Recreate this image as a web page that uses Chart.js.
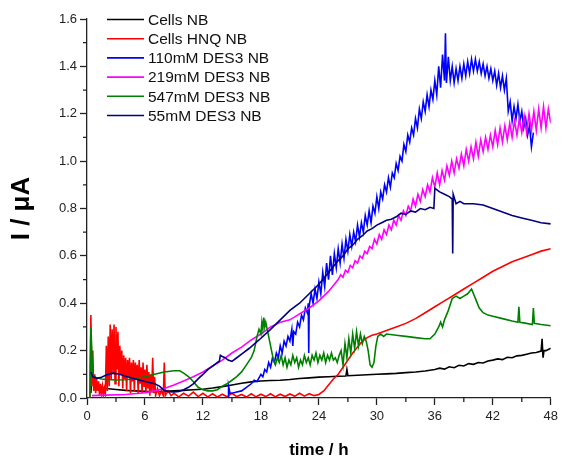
<!DOCTYPE html>
<html>
<head>
<meta charset="utf-8">
<script src="https://cdn.jsdelivr.net/npm/chart.js@4.4.0/dist/chart.umd.min.js"></script>
<style>
  html, body { margin: 0; padding: 0; background: #fff; }
  canvas { display: block; }
</style>
</head>
<body>
<canvas id="chart" width="562" height="463"></canvas>
<script>
// series names, as in the legend
const seriesLabels = ["Cells NB", "Cells HNQ NB", "110mM DES3 NB", "219mM DES3 NB", "547mM DES3 NB", "55mM DES3 NB"];

// x axis ticks (time / h) and y axis ticks (I / µA)
const timeTicks = [0, 6, 12, 18, 24, 30, 36, 42, 48];
const currentTicks = [0.0, 0.2, 0.4, 0.6, 0.8, 1.0, 1.2, 1.4, 1.6];

// Cells NB
const cellsNbTime = [0.4, 0.5, 0.7, 1.0, 1.5, 2, 3, 4, 5, 6, 7, 8, 9, 10, 11, 12, 13, 14, 15, 16, 17, 18, 19, 20, 21, 22, 23, 24, 25, 26, 26.8, 26.9, 27, 28, 29, 30, 31, 32, 33, 34, 35, 36, 36.5, 37, 37.5, 38, 38.5, 39, 39.5, 40, 40.5, 41, 41.5, 42, 42.5, 43, 43.5, 44, 44.5, 45, 45.5, 46, 46.5, 47, 47.1, 47.2, 47.3, 47.5, 48];
const cellsNbCurrent = [0.02, 0.09, 0.06, 0.05, 0.045, 0.04, 0.036, 0.032, 0.03, 0.028, 0.027, 0.028, 0.03, 0.032, 0.035, 0.037, 0.042, 0.048, 0.055, 0.062, 0.068, 0.072, 0.074, 0.075, 0.078, 0.082, 0.085, 0.088, 0.09, 0.092, 0.093, 0.12, 0.094, 0.096, 0.098, 0.1, 0.102, 0.104, 0.107, 0.11, 0.114, 0.12, 0.126, 0.122, 0.132, 0.128, 0.138, 0.135, 0.145, 0.142, 0.15, 0.148, 0.156, 0.16, 0.165, 0.162, 0.172, 0.17, 0.178, 0.18, 0.185, 0.19, 0.192, 0.198, 0.25, 0.17, 0.2, 0.2, 0.21];

// Cells HNQ NB
const cellsHnqTime = [0.3, 0.4, 0.5, 0.6, 0.7, 0.8, 0.9, 1.0, 1.1, 1.2, 1.3, 1.4, 1.5, 1.6, 1.7, 1.8, 1.9, 2.0, 2.1, 2.2, 2.3, 2.4, 2.5, 2.6, 2.7, 2.8, 2.9, 3.0, 3.1, 3.2, 3.3, 3.4, 3.5, 3.6, 3.7, 3.8, 3.9, 4.0, 4.1, 4.2, 4.3, 4.4, 4.5, 4.6, 4.7, 4.8, 4.9, 5.0, 5.1, 5.2, 5.3, 5.4, 5.5, 5.6, 5.7, 5.8, 5.9, 6.0, 6.1, 6.2, 6.3, 6.4, 6.5, 6.6, 6.7, 6.8, 6.9, 7.0, 7.1, 7.3, 7.5, 7.7, 7.9, 8.0, 8.1, 8.4, 8.7, 9, 9.5, 10, 10.5, 11, 11.5, 12, 12.5, 13, 13.5, 14, 14.5, 15, 15.5, 16, 16.5, 17, 17.5, 18, 18.5, 19, 19.5, 20, 20.5, 21, 21.5, 22, 22.5, 23, 23.5, 24, 24.5, 25, 25.5, 26, 26.5, 27, 27.5, 28, 28.5, 29, 29.5, 30, 31, 32, 33, 34, 35, 36, 37, 38, 39, 40, 41, 42, 43, 44, 45, 46, 47, 48];
const cellsHnqCurrent = [0.0, 0.35, 0.05, 0.2, 0.03, 0.1, 0.02, 0.08, 0.03, 0.07, 0.01, 0.06, 0.02, 0.05, 0.01, 0.04, 0.02, 0.22, 0.03, 0.26, 0.05, 0.31, 0.08, 0.29, 0.1, 0.31, 0.06, 0.3, 0.12, 0.28, 0.05, 0.22, 0.1, 0.2, 0.04, 0.18, 0.08, 0.17, 0.03, 0.16, 0.09, 0.17, 0.02, 0.15, 0.07, 0.16, 0.03, 0.15, 0.08, 0.14, 0.02, 0.16, 0.06, 0.13, 0.02, 0.15, 0.05, 0.12, 0.02, 0.14, 0.04, 0.11, 0.01, 0.1, 0.03, 0.17, 0.02, 0.09, 0.01, 0.04, 0.01, 0.03, 0.01, 0.15, 0.01, 0.03, 0.01, 0.02, 0.005, 0.02, 0.008, 0.025, 0.006, 0.02, 0.005, 0.018, 0.004, 0.016, 0.005, 0.02, 0.006, 0.015, 0.004, 0.018, 0.005, 0.016, 0.006, 0.018, 0.005, 0.016, 0.006, 0.017, 0.007, 0.02, 0.008, 0.018, 0.01, 0.015, 0.03, 0.055, 0.08, 0.1, 0.13, 0.16, 0.19, 0.215, 0.24, 0.255, 0.265, 0.27, 0.285, 0.3, 0.315, 0.335, 0.36, 0.385, 0.41, 0.435, 0.46, 0.485, 0.51, 0.535, 0.555, 0.575, 0.59, 0.605, 0.62, 0.63];

// 110mM DES3 NB
const des110Time = [14.6, 14.65, 14.8, 15, 15.5, 16, 16.5, 17, 17.3, 17.6, 18, 18.2, 18.4, 18.6, 18.8, 19, 19.2, 19.4, 19.6, 19.8, 20, 20.2, 20.4, 20.6, 20.8, 21.0, 21.2, 21.3, 21.4, 21.6, 21.8, 22.0, 22.2, 22.4, 22.6, 22.8, 22.9, 22.95,
    23.0, 23.2, 23.4, 23.6, 23.8, 24.0, 24.2, 24.4, 24.6, 24.8, 25.0, 25.2, 25.4, 25.6, 25.8, 26.0, 26.2, 26.4, 26.6, 26.8, 27.0, 27.2, 27.4, 27.6, 27.8, 28.0, 28.2, 28.4, 28.6, 28.8, 29.0, 29.2, 29.4, 29.6, 29.8,
    30.0, 30.2, 30.4, 30.6, 30.8, 31.0, 31.2, 31.4, 31.6, 31.8, 32.0, 32.2, 32.4, 32.6, 32.8, 33.0, 33.2, 33.4, 33.6, 33.8, 34.0, 34.2, 34.4, 34.6, 34.8, 35.0, 35.2, 35.4, 35.6, 35.8, 36.0, 36.2, 36.4, 36.6, 36.8, 37.0, 37.1, 37.2, 37.4, 37.6, 37.8,
    38.0, 38.2, 38.4, 38.6, 38.8, 39.0, 39.2, 39.4, 39.6, 39.8, 40.0, 40.2, 40.4, 40.6, 40.8, 41.0, 41.2, 41.4, 41.6, 41.8, 42.0, 42.2, 42.4, 42.6, 42.8, 43.0, 43.2, 43.4, 43.6, 43.8, 44.0, 44.2, 44.4, 44.6, 44.8, 45.0, 45.2, 45.4, 45.6, 45.8, 46.0, 46.2];
const des110Current = [0.0, 0.05, 0.02, 0.02, 0.025, 0.03, 0.045, 0.06, 0.075, 0.07, 0.1, 0.09, 0.12, 0.11, 0.15, 0.13, 0.17, 0.15, 0.19, 0.17, 0.22, 0.19, 0.24, 0.22, 0.26, 0.24, 0.29, 0.22, 0.28, 0.27, 0.32, 0.3, 0.35, 0.33, 0.38, 0.36, 0.4, 0.19,
    0.39, 0.44, 0.4, 0.46, 0.42, 0.49, 0.44, 0.53, 0.47, 0.57, 0.5, 0.6, 0.52, 0.61, 0.55, 0.63, 0.57, 0.65, 0.59, 0.67, 0.62, 0.69, 0.64, 0.7, 0.66, 0.73, 0.68, 0.74, 0.7, 0.77, 0.73, 0.79, 0.74, 0.81, 0.78,
    0.85, 0.8, 0.87, 0.84, 0.9, 0.87, 0.93, 0.89, 0.95, 0.93, 0.99, 0.96, 1.02, 1.0, 1.07, 1.04, 1.11, 1.08, 1.14, 1.11, 1.18, 1.14, 1.22, 1.18, 1.25, 1.21, 1.28, 1.23, 1.3, 1.26, 1.34, 1.28, 1.4, 1.31, 1.45, 1.34, 1.54, 1.33, 1.44, 1.34, 1.4,
    1.33, 1.39, 1.34, 1.4, 1.35, 1.41, 1.36, 1.42, 1.37, 1.43, 1.38, 1.43, 1.38, 1.42, 1.37, 1.41, 1.36, 1.4, 1.35, 1.39, 1.34, 1.38, 1.32, 1.37, 1.31, 1.36, 1.3, 1.35, 1.21, 1.25, 1.17, 1.23, 1.18, 1.24, 1.17, 1.21, 1.14, 1.18, 1.11, 1.15, 1.06, 1.12];

// 219mM DES3 NB
const des219Time = [0.5, 2, 4, 6, 7, 8, 9, 10, 11, 12, 13, 14, 15, 16, 17, 18, 19, 20, 21, 22, 23, 24, 25,
    26, 26.25, 26.5, 26.75, 27, 27.25, 27.5, 27.75, 28, 28.25, 28.5, 28.75, 29, 29.25, 29.5, 29.75, 30, 30.25, 30.5, 30.75, 31, 31.25, 31.5, 31.75, 32, 32.25, 32.5, 32.75, 33, 33.25, 33.5, 33.75, 34, 34.25, 34.5, 34.75, 35, 35.25, 35.5, 35.75,
    36, 36.25, 36.5, 36.75, 37, 37.25, 37.5, 37.75, 38, 38.25, 38.5, 38.75, 39, 39.25, 39.5, 39.75, 40, 40.25, 40.5, 40.75, 41, 41.25, 41.5, 41.75, 42, 42.25, 42.5, 42.75, 43, 43.25, 43.5, 43.75, 44, 44.25, 44.5, 44.75, 45, 45.25, 45.5, 45.75, 46, 46.25, 46.5, 46.75, 47, 47.25, 47.5, 47.75, 48];
const des219Current = [0.01, 0.012, 0.015, 0.022, 0.03, 0.04, 0.055, 0.072, 0.09, 0.11, 0.135, 0.16, 0.19, 0.215, 0.245, 0.27, 0.3, 0.32, 0.33, 0.355, 0.38, 0.41, 0.45,
    0.5, 0.52, 0.51, 0.54, 0.53, 0.56, 0.55, 0.58, 0.57, 0.6, 0.59, 0.62, 0.61, 0.64, 0.63, 0.67, 0.65, 0.69, 0.67, 0.71, 0.69, 0.73, 0.71, 0.75, 0.73, 0.77, 0.75, 0.79, 0.77, 0.81, 0.79, 0.84, 0.81, 0.86, 0.83, 0.88, 0.85, 0.9, 0.87, 0.93,
    0.89, 0.95, 0.9, 0.96, 0.92, 0.98, 0.94, 1.0, 0.95, 1.01, 0.97, 1.03, 0.98, 1.05, 1.0, 1.06, 1.01, 1.08, 1.02, 1.09, 1.04, 1.1, 1.05, 1.11, 1.06, 1.13, 1.07, 1.14, 1.08, 1.15, 1.09, 1.16, 1.1, 1.17, 1.11, 1.18, 1.12, 1.19, 1.12, 1.2, 1.13, 1.21, 1.13, 1.22, 1.14, 1.23, 1.14, 1.22, 1.16];

// 547mM DES3 NB
const des547Time = [0.3, 0.4, 0.5, 0.6, 0.8, 1, 1.5, 2, 3, 4, 5, 6, 7, 8, 9, 9.6, 10, 10.5, 11, 11.5, 12, 12.5, 13, 13.5, 14, 14.5, 15, 15.5, 16, 16.5, 17, 17.3, 17.6, 17.8, 18.0, 18.1, 18.2, 18.3, 18.4, 18.5, 18.7, 18.9, 19.1, 19.3, 19.5, 19.7, 19.9, 20.1, 20.3, 20.5, 20.7, 20.9, 21.1, 21.3, 21.5, 21.7, 21.9, 22.1, 22.3, 22.5, 22.7, 22.9, 23.1, 23.3, 23.5, 23.7, 23.9, 24.1, 24.3, 24.5, 24.7, 24.9, 25.1, 25.3, 25.5, 25.7, 25.9, 26.1, 26.3, 26.5, 26.7, 26.9, 27.1, 27.3, 27.5, 27.7, 27.9, 28.1, 28.3, 28.5, 28.7, 28.9, 29.1, 29.3, 29.5, 29.7, 29.9, 30.1, 30.4, 30.7, 31, 32, 33, 34, 35, 35.5, 36, 36.4, 36.6, 36.8, 37, 37.4, 37.8, 38.2, 38.6, 39, 39.4, 39.8, 40.0, 40.3, 40.6, 41, 41.5, 42, 43, 44, 44.6, 44.7, 44.8, 45.5, 46.1, 46.2, 46.3, 47, 48];
const des547Current = [0.0, 0.3, 0.2, 0.1, 0.09, 0.085, 0.08, 0.078, 0.076, 0.077, 0.082, 0.09, 0.1, 0.11, 0.115, 0.115, 0.105, 0.09, 0.07, 0.045, 0.035, 0.03, 0.03, 0.035, 0.05, 0.06, 0.075, 0.09, 0.11, 0.14, 0.17, 0.2, 0.26, 0.29, 0.27, 0.32, 0.29, 0.34, 0.3, 0.32, 0.28, 0.24, 0.2, 0.16, 0.14, 0.17, 0.15, 0.18, 0.14, 0.17, 0.13, 0.16, 0.14, 0.18, 0.15, 0.17, 0.13, 0.16, 0.14, 0.18, 0.15, 0.17, 0.14, 0.18, 0.16, 0.19, 0.15, 0.18, 0.16, 0.19, 0.15, 0.18, 0.16, 0.19, 0.16, 0.17, 0.15, 0.18, 0.2, 0.14, 0.23, 0.17, 0.25, 0.19, 0.27, 0.21, 0.28, 0.22, 0.27, 0.23, 0.26, 0.24, 0.2, 0.14, 0.13, 0.15, 0.22, 0.26, 0.27, 0.26, 0.27, 0.265, 0.26, 0.255, 0.25, 0.25, 0.27, 0.3, 0.32, 0.3, 0.33, 0.37, 0.42, 0.43, 0.42, 0.43, 0.44, 0.46, 0.44, 0.41, 0.38, 0.36, 0.35, 0.345, 0.335, 0.325, 0.32, 0.385, 0.32, 0.315, 0.31, 0.38, 0.315, 0.31, 0.305];

// 55mM DES3 NB
const des55Time = [0.4, 0.6, 1, 1.5, 2, 2.6, 3.2, 4, 5, 6, 7, 7.5, 8, 8.5, 9, 9.5, 10, 10.5, 11, 11.6, 12, 12.5, 13, 13.5, 13.7, 13.8, 14, 14.3, 14.6, 15, 15.5, 16, 16.8, 17.8, 19, 20, 21, 22, 23, 24, 25, 26, 26.5, 27, 27.5, 28, 28.5, 29, 29.5, 30, 30.5, 31, 31.5, 32, 32.5, 33, 33.5, 34, 34.5, 35, 35.5, 35.9, 36.0, 36.5, 37, 37.5, 37.8, 37.85, 37.9, 38.2, 38.6, 39, 40, 41, 42, 43, 44, 45, 46, 47, 48];
const des55Current = [0.11, 0.09, 0.083, 0.088, 0.097, 0.105, 0.102, 0.092, 0.08, 0.07, 0.06, 0.05, 0.032, 0.027, 0.026, 0.028, 0.035, 0.045, 0.06, 0.085, 0.1, 0.12, 0.135, 0.15, 0.155, 0.18, 0.175, 0.17, 0.16, 0.155, 0.17, 0.185, 0.21, 0.245, 0.29, 0.33, 0.37, 0.4, 0.44, 0.48, 0.53, 0.58, 0.6, 0.63, 0.645, 0.67, 0.685, 0.705, 0.715, 0.73, 0.74, 0.75, 0.755, 0.765, 0.78, 0.775, 0.79, 0.785, 0.8, 0.795, 0.805, 0.8, 0.885, 0.87, 0.86, 0.85, 0.84, 0.61, 0.86, 0.82, 0.83, 0.82, 0.82, 0.815, 0.8, 0.785, 0.77, 0.76, 0.75, 0.74, 0.735];

const seriesTimes = [cellsNbTime, cellsHnqTime, des110Time, des219Time, des547Time, des55Time];
const seriesCurrents = [cellsNbCurrent, cellsHnqCurrent, des110Current, des219Current, des547Current, des55Current];
const seriesColors = ["#000000", "#ff0000", "#0000ff", "#ff00ff", "#008000", "#000080"];

const axisColor = "#222";
const fontFamily = "'Liberation Sans', Arial, sans-serif";

const datasets = seriesLabels.map(function (label, i) {
    return {
        label: label,
        data: seriesTimes[i].map(function (t, j) { return { x: t, y: seriesCurrents[i][j] }; }),
        borderColor: seriesColors[i],
        backgroundColor: seriesColors[i],
        borderWidth: 1.6,
        pointRadius: 0,
        tension: 0,
        order: seriesLabels.length - i
    };
});

// short minor ticks between the labelled ones
const minorTicks = {
    id: "minorTicks",
    afterDraw: function (chart) {
        const ctx = chart.ctx;
        const xs = chart.scales.x;
        const ys = chart.scales.y;
        ctx.save();
        ctx.strokeStyle = axisColor;
        ctx.lineWidth = 1.3;
        ctx.beginPath();
        for (let i = 0; i < timeTicks.length - 1; i++) {
            const px = xs.getPixelForValue((timeTicks[i] + timeTicks[i + 1]) / 2);
            ctx.moveTo(px, ys.bottom);
            ctx.lineTo(px, ys.bottom + 4);
        }
        for (let i = 0; i < currentTicks.length - 1; i++) {
            const py = ys.getPixelForValue((currentTicks[i] + currentTicks[i + 1]) / 2);
            ctx.moveTo(xs.left - 4, py);
            ctx.lineTo(xs.left, py);
        }
        ctx.stroke();
        ctx.restore();
    }
};

// legend inside the plot, top left
const insideLegend = {
    id: "insideLegend",
    afterDraw: function (chart) {
        const ctx = chart.ctx;
        ctx.save();
        ctx.font = "15.5px " + fontFamily;
        ctx.textBaseline = "middle";
        chart.data.datasets.forEach(function (ds, i) {
            const y = 19.5 + i * 19.2;
            ctx.strokeStyle = ds.borderColor;
            ctx.lineWidth = 1.6;
            ctx.beginPath();
            ctx.moveTo(107, y);
            ctx.lineTo(144, y);
            ctx.stroke();
            ctx.fillStyle = "#111";
            ctx.fillText(ds.label, 148, y + 1);
        });
        ctx.restore();
    }
};

new Chart(document.getElementById("chart"), {
    type: "line",
    data: { datasets: datasets },
    plugins: [minorTicks, insideLegend],
    options: {
        responsive: false,
        animation: false,
        layout: { padding: { top: 19, right: 10, bottom: 0, left: 2 } },
        plugins: {
            legend: { display: false },
            tooltip: { enabled: false }
        },
        scales: {
            x: {
                type: "linear",
                min: 0,
                max: 48,
                afterFit: function (scale) { scale.height = 65; },
                afterBuildTicks: function (scale) {
                    scale.ticks = timeTicks.map(function (v) { return { value: v }; });
                },
                ticks: {
                    color: axisColor,
                    font: { family: fontFamily, size: 13 },
                    padding: 4,
                    maxRotation: 0
                },
                grid: { drawOnChartArea: false, tickLength: 7, color: axisColor, tickWidth: 1.3 },
                border: { color: axisColor, width: 1.3 },
                title: {
                    display: true,
                    text: "time / h",
                    color: "#000",
                    font: { family: fontFamily, size: 17, weight: "bold" },
                    padding: { top: 0, bottom: 2 }
                }
            },
            y: {
                min: 0,
                max: 1.6,
                afterFit: function (scale) { scale.width = 85; },
                afterBuildTicks: function (scale) {
                    scale.ticks = currentTicks.map(function (v) { return { value: v }; });
                },
                ticks: {
                    color: axisColor,
                    font: { family: fontFamily, size: 13 },
                    padding: 3,
                    callback: function (v) { return Number(v).toFixed(1); }
                },
                grid: { drawOnChartArea: false, tickLength: 7, color: axisColor, tickWidth: 1.3 },
                border: { color: axisColor, width: 1.3 },
                title: {
                    display: true,
                    text: "I / μA",
                    color: "#000",
                    font: { family: fontFamily, size: 26, weight: "bold" },
                    padding: { top: 4, bottom: 0 }
                }
            }
        }
    }
});
</script>
</body>
</html>
